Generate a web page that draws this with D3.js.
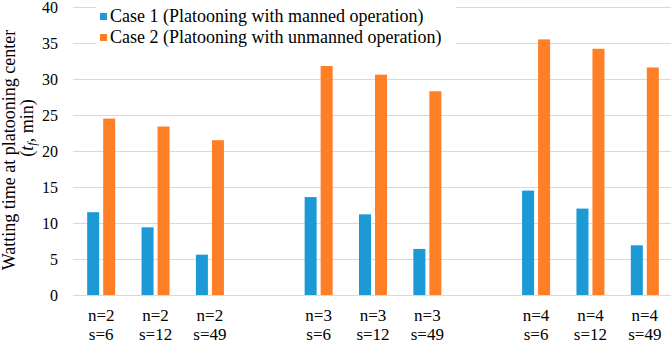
<!DOCTYPE html>
<html>
<head>
<meta charset="utf-8">
<script src="https://cdn.jsdelivr.net/npm/d3@7"></script>
<style>
  body { margin: 0; background: #fff; }
  svg text { font-family: "Liberation Serif", "Times New Roman", Times, Tinos, "DejaVu Serif", serif; fill: #000; }
</style>
</head>
<body>
<div id="chart"></div>
<script>
// waiting time bars, two cases, grouped by n with a blank slot between groups
const categories = ["n=2|s=6", "n=2|s=12", "n=2|s=49",
                    "n=3|s=6", "n=3|s=12", "n=3|s=49",
                    "n=4|s=6", "n=4|s=12", "n=4|s=49"];
const case1 = [11.5, 9.4, 5.6, 13.6, 11.2, 6.4, 14.5, 12.0, 6.9];
const case2 = [24.5, 23.4, 21.5, 31.8, 30.6, 28.3, 35.5, 34.2, 31.6];
const seriesNames = ["Case 1 (Platooning with manned operation)",
                     "Case 2 (Platooning with unmanned operation)"];
const yTicks = [0, 5, 10, 15, 20, 25, 30, 35, 40];

const colors = ["#1b9ad6", "#ff7f27"];

let width = 671, height = 345;
let plot = { left: 73, right: 671, top: 7, bottom: 295 };

// slot list with empty slots between the n groups
var slots = [];
categories.forEach((c, i) => {
    if (i > 0 && i % 3 === 0) slots.push("gap" + i);
    slots.push(c);
});

var svg = d3.select("#chart").append("svg")
    .attr("width", width)
    .attr("height", height);

var y = d3.scaleLinear()
    .domain([0, 40])
    .range([plot.bottom, plot.top]);

var x = d3.scaleBand()
    .domain(slots)
    .range([plot.left + 1, plot.right + 1])
    .padding(0);

var xs = d3.scaleBand()
    .domain([0, 1])
    .range([-14, 14])
    .paddingInner(0.25)
    .paddingOuter(0);

// gridlines
svg.append("g")
    .selectAll("line")
    .data(yTicks)
    .enter()
    .append("line")
    .attr("x1", plot.left)
    .attr("x2", plot.right)
    .attr("y1", d => Math.round(y(d)) + 0.5)
    .attr("y2", d => Math.round(y(d)) + 0.5)
    .attr("stroke", "#d9d9d9")
    .attr("stroke-width", 1);

// y tick labels
svg.append("g")
    .selectAll("text")
    .data(yTicks)
    .enter()
    .append("text")
    .attr("x", 58)
    .attr("y", d => y(d) + 6)
    .attr("text-anchor", "end")
    .style("font-size", "16px")
    .text(d => d);

// bars
var series = [case1, case2];
series.forEach((vals, si) => {
    svg.append("g")
        .selectAll("rect")
        .data(vals)
        .enter()
        .append("rect")
        .attr("x", (d, i) => x(categories[i]) + x.bandwidth() / 2 + xs(si))
        .attr("width", xs.bandwidth())
        .attr("y", d => y(d))
        .attr("height", d => y(0) - y(d))
        .style("fill", colors[si]);
});

// x labels, two lines each
svg.append("g")
    .selectAll("text")
    .data(categories)
    .enter()
    .append("text")
    .attr("x", d => x(d) + x.bandwidth() / 2)
    .attr("y", 321)
    .attr("text-anchor", "middle")
    .style("font-size", "17px")
    .text(d => d.split("|")[0]);

svg.append("g")
    .selectAll("text")
    .data(categories)
    .enter()
    .append("text")
    .attr("x", d => x(d) + x.bandwidth() / 2)
    .attr("y", 340)
    .attr("text-anchor", "middle")
    .style("font-size", "17px")
    .text(d => d.split("|")[1]);

// legend
var legend = svg.append("g");
legend.append("rect")
    .attr("x", 96)
    .attr("y", 1)
    .attr("width", 360)
    .attr("height", 50)
    .style("fill", "#fff");

seriesNames.forEach((name, i) => {
    legend.append("rect")
        .attr("x", 100)
        .attr("y", 13 + i * 21)
        .attr("width", 7)
        .attr("height", 7)
        .style("fill", colors[i]);
    legend.append("text")
        .attr("x", 110)
        .attr("y", 22 + i * 21)
        .style("font-size", "18px")
        .text(name);
});

// y axis title, two lines
svg.append("text")
    .attr("transform", "translate(15,150) rotate(-90)")
    .attr("text-anchor", "middle")
    .style("font-size", "18px")
    .text("Watting time at platooning center");

var l2 = svg.append("text")
    .attr("transform", "translate(33,128) rotate(-90)")
    .attr("text-anchor", "middle")
    .style("font-size", "18px");
l2.append("tspan").text("(");
l2.append("tspan").style("font-style", "italic").text("t");
l2.append("tspan").style("font-style", "italic").style("font-size", "12px").attr("dy", 3).text("f");
l2.append("tspan").attr("dy", -3).text(", min)");
</script>
</body>
</html>
